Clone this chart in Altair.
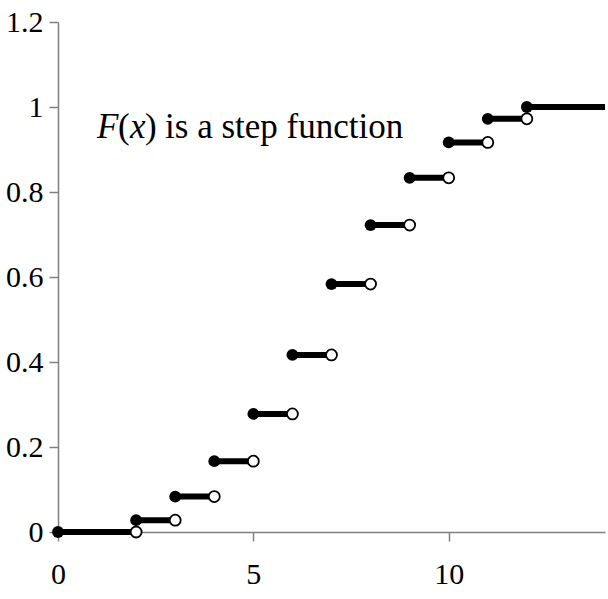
import altair as alt
import pandas as pd

x_start = [0, 2, 3, 4, 5, 6, 7, 8, 9, 10, 11, 12]
x_end = [2, 3, 4, 5, 6, 7, 8, 9, 10, 11, 12, 14]
F_vals = [0.0, 0.0278, 0.0833, 0.1667, 0.2778, 0.4167, 0.5833, 0.7222, 0.8333, 0.9167, 0.9722, 1.0]
open_flags = [True] * 11 + [False]

y_ticks = [0, 0.2, 0.4, 0.6, 0.8, 1.0, 1.2]
x_ticks = [0, 5, 10]

seg = pd.DataFrame({"x0": x_start, "x1": x_end, "F": F_vals, "open": open_flags})
opens = seg[seg["open"]]

FONT = "Liberation Serif"

xs = alt.Scale(domain=[0, 14], nice=False, zero=False)
ys = alt.Scale(domain=[0, 1.2], nice=False)

xaxis = alt.Axis(values=x_ticks, grid=False, domainColor="#808080", tickColor="#808080",
                 tickSize=9, labelFont=FONT, labelFontSize=30, labelColor="black",
                 labelPadding=18, labelFlush=False, title=None, domainWidth=1.5, tickWidth=1.5)
yaxis = alt.Axis(values=y_ticks, grid=False, domainColor="#808080", tickColor="#808080",
                 tickSize=9, labelFont=FONT, labelFontSize=30, labelColor="black",
                 labelPadding=6, labelFlush=False, title=None, format="~g",
                 domainWidth=1.5, tickWidth=1.5)

base = alt.Chart(seg)

lines = base.mark_rule(color="black", strokeWidth=6).encode(
    x=alt.X("x0:Q", scale=xs, axis=xaxis),
    x2="x1:Q",
    y=alt.Y("F:Q", scale=ys, axis=yaxis),
)

filled = base.mark_point(filled=True, color="black", size=140, opacity=1, shape="circle").encode(
    x=alt.X("x0:Q", scale=xs), y=alt.Y("F:Q", scale=ys)
)

hollow = alt.Chart(opens).mark_point(filled=True, fill="white", stroke="black", strokeWidth=1.8,
                                     size=120, opacity=1, shape="circle").encode(
    x=alt.X("x1:Q", scale=xs), y=alt.Y("F:Q", scale=ys)
)

ann = pd.DataFrame({
    "t": ["F", "(", "x", ")", "is a step function"],
    "italic": ["italic", "normal", "italic", "normal", "normal"],
    "dx": [0, 21, 33, 48, 68],
    "x": [1.0] * 5,
    "y": [0.927] * 5,
})

texts = []
for _, r in ann.iterrows():
    texts.append(
        alt.Chart(pd.DataFrame([r])).mark_text(
            font=FONT, fontSize=35, fontStyle=r["italic"], align="left",
            baseline="alphabetic", dx=int(r["dx"]), color="black"
        ).encode(x=alt.X("x:Q", scale=xs), y=alt.Y("y:Q", scale=ys), text="t:N")
    )

chart = alt.layer(lines, filled, hollow, *texts).properties(
    width=547, height=510,
    padding={"left": 58, "top": 22, "right": 3, "bottom": 67},
    autosize=alt.AutoSizeParams(type="none"),
    background="white",
).configure_view(stroke=None)

chart.save("out.html", embed_options={"renderer": "svg", "actions": False})
